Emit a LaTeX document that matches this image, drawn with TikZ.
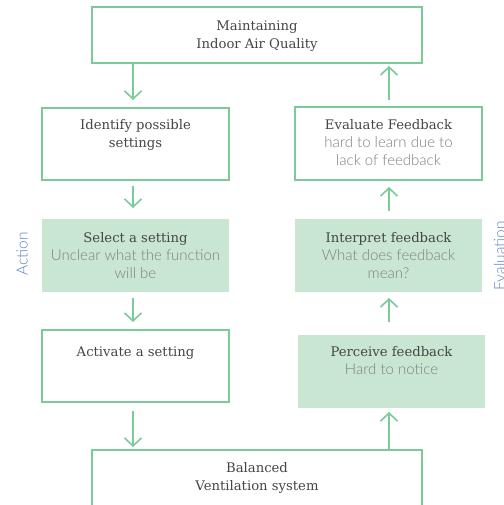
\documentclass[tikz,border=0pt]{standalone}
\usepackage{fontspec}
\usetikzlibrary{arrows.meta}
\newfontfamily\slabfont{DejaVu Serif}
\newfontfamily\lightfont{Lato Light}
\definecolor{edge}{HTML}{7ACB98}
\definecolor{panel}{HTML}{C9E6D3}
\definecolor{ink}{HTML}{454545}
\definecolor{soft}{HTML}{7E7E7E}
\definecolor{side}{HTML}{5F84BE}
\newcommand{\ttl}{\slabfont\fontsize{13.2}{17.8}\selectfont\color{ink}}
\newcommand{\sub}{\lightfont\fontsize{15}{17.8}\selectfont\color{soft}}
\tikzset{
  box/.style={draw=edge, line width=1.6pt, fill=white, inner sep=0pt, outer sep=0pt},
  panelbox/.style={fill=panel, draw=none, inner sep=0pt, outer sep=0pt},
  txt/.style={align=center, inner sep=0pt, anchor=north, font=\fontsize{13}{17.8}\selectfont},
  arr/.style={draw=edge, line width=1.6pt, -{Straight Barb[length=8pt,width=17pt,line width=1.6pt]}},
  sidelabel/.style={rotate=90, inner sep=0pt, font=\lightfont\fontsize{15.5}{17}\selectfont, text=side}
}
\begin{document}
\begin{tikzpicture}[x=1pt,y=-1pt]
\useasboundingbox (0,0) rectangle (503,505);
\clip (0,0) rectangle (503,505);
% column guides for the connectors
\coordinate (lx) at (133,0);
\coordinate (rx) at (389,0);

% boxes
\node[box, minimum width=330pt, minimum height=56pt] (top) at (257,35) {};
\node[box, minimum width=187pt, minimum height=72pt] (identify) at (135.5,144) {};
\node[panelbox, minimum width=187pt, minimum height=73pt] (select) at (135.5,255.5) {};
\node[box, minimum width=187pt, minimum height=72pt] (activate) at (135.5,366) {};
\node[box, minimum width=330pt, minimum height=100pt] (bottom) at (257,500) {};
\node[box, minimum width=187pt, minimum height=73pt] (evaluate) at (388.5,143.5) {};
\node[panelbox, minimum width=187pt, minimum height=73pt] (interpret) at (388.5,255.5) {};
\node[panelbox, minimum width=187pt, minimum height=73pt] (perceive) at (391.5,371.5) {};

% texts
\node[txt] (topT) at (257,20.5) {{\ttl Maintaining}\\{\ttl Indoor Air Quality}};
\node[txt] (identifyT) at (135.5,119.5) {{\ttl Identify possible}\\{\ttl settings}};
\node[txt] (selectT) at (135.5,232.5) {{\ttl Select a setting}\\{\sub Unclear what the function}\\{\sub will be}};
\node[txt] (activateT) at (135.5,346.5) {{\ttl Activate a setting}};
\node[txt] (bottomT) at (257,462.5) {{\ttl Balanced}\\{\ttl Ventilation system}};
\node[txt] (evaluateT) at (388.5,119.5) {{\ttl Evaluate Feedback}\\{\sub hard to learn due to}\\{\sub lack of feedback}};
\node[txt] (interpretT) at (388.5,232.5) {{\ttl Interpret feedback}\\{\sub What does feedback}\\{\sub mean?}};
\node[txt] (perceiveT) at (391.5,346.5) {{\ttl Perceive feedback}\\{\sub Hard to notice}};

% side labels
\node[sidelabel] (action) at (22,254) {Action};
\node[sidelabel] (evaluation) at (499.5,256) {Evaluation};

% action side, downward
\draw[arr, shorten >=8pt] (top.south -| lx) -- (identify.north -| lx);
\draw[arr, shorten <=6pt, shorten >=11pt] (identify.south -| lx) -- (select.north -| lx);
\draw[arr, shorten <=6pt, shorten >=8pt] (select.south -| lx) -- (activate.north -| lx);
\draw[arr, shorten <=9pt, shorten >=3pt] (activate.south -| lx) -- (bottom.north -| lx);

% evaluation side, upward
\draw[arr, shorten >=4pt] (bottom.north -| rx) -- (perceive.south -| rx);
\draw[arr, shorten <=13pt, shorten >=6pt] (perceive.north -| rx) -- (interpret.south -| rx);
\draw[arr, shorten <=8pt, shorten >=7pt] (interpret.north -| rx) -- (evaluate.south -| rx);
\draw[arr, shorten <=7pt, shorten >=3pt] (evaluate.north -| rx) -- (top.south -| rx);
\end{tikzpicture}
\end{document}
